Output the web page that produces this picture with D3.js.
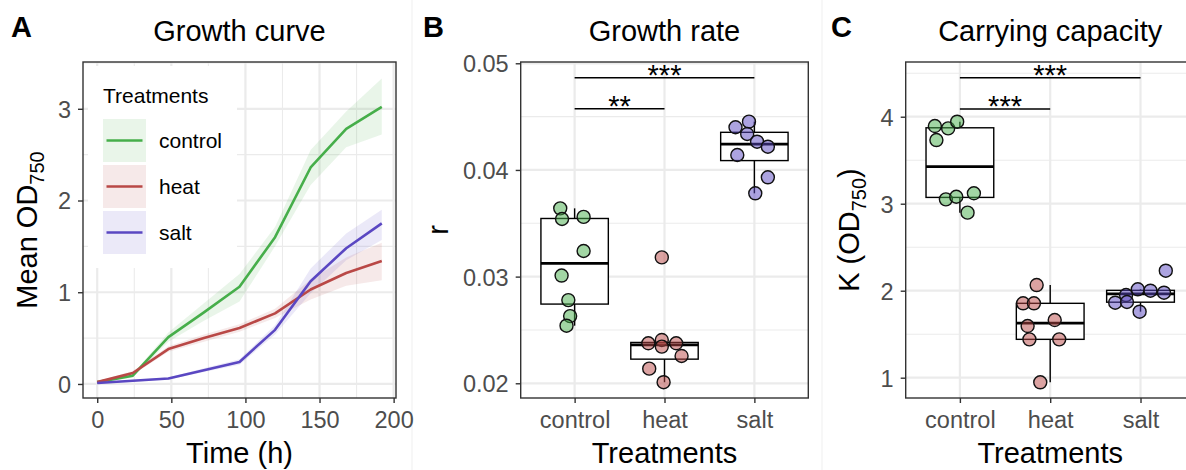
<!DOCTYPE html>
<html>
<head>
<meta charset="utf-8">
<script src="https://cdn.jsdelivr.net/npm/d3@7"></script>
<style>
  body { margin: 0; background: #fff; }
  svg { display: block; }
  text { font-family: "Liberation Sans", Arial, Helvetica, sans-serif; }
</style>
</head>
<body>
<svg id="fig" width="1186" height="470"></svg>
<script>
// ---- data -------------------------------------------------------------
const treatments = ["control", "heat", "salt"];
const treatmentColors = ["#46ae4a", "#b94846", "#5a47c2"];

// Growth curves: mean OD750 and ribbon bounds per sampling time (h)
const timeHours   = [0, 24, 48, 72, 96, 120, 144, 168, 192];
const controlMean = [0.02, 0.09, 0.51, 0.78, 1.06, 1.60, 2.36, 2.78, 3.02];
const controlLow  = [0.01, 0.07, 0.46, 0.69, 0.90, 1.50, 2.17, 2.58, 2.72];
const controlHigh = [0.03, 0.11, 0.56, 0.88, 1.20, 1.71, 2.55, 2.97, 3.33];
const heatMean    = [0.02, 0.12, 0.38, 0.50, 0.61, 0.77, 1.03, 1.21, 1.34];
const heatLow     = [0.01, 0.10, 0.35, 0.46, 0.57, 0.72, 0.92, 1.07, 1.13];
const heatHigh    = [0.03, 0.14, 0.41, 0.54, 0.65, 0.82, 1.14, 1.38, 1.54];
const saltMean    = [0.01, 0.035, 0.06, 0.15, 0.24, 0.59, 1.12, 1.48, 1.75];
const saltLow     = [0.00, 0.025, 0.05, 0.13, 0.21, 0.54, 0.99, 1.35, 1.57];
const saltHigh    = [0.02, 0.045, 0.07, 0.17, 0.27, 0.64, 1.26, 1.64, 1.90];

// Growth rate r per replicate
const rateControl = [0.0364, 0.0354, 0.0356, 0.0324, 0.0301, 0.0278, 0.0263, 0.0254];
const rateHeat    = [0.0318, 0.02375, 0.02406, 0.02344, 0.02375, 0.02256, 0.02137, 0.0201];
const rateSalt    = [0.0440, 0.04453, 0.04337, 0.04265, 0.04218, 0.0414, 0.03931, 0.03781];
// horizontal jitter (fraction of category step)
const rateJitterControl = [-0.16, -0.14, 0.10, 0.10, -0.145, -0.07, -0.05, -0.09];
const rateJitterHeat    = [-0.03, -0.18, -0.03, -0.03, 0.13, 0.19, -0.17, -0.01];
const rateJitterSalt    = [-0.21, -0.06, -0.08, 0.03, 0.15, -0.19, 0.15, 0.01];

// Carrying capacity K per replicate
const capControl = [3.893, 3.866, 3.943, 3.732, 3.05, 3.08, 3.12, 2.897];
const capHeat    = [2.065, 1.855, 1.855, 1.663, 1.594, 1.441, 1.441, 0.947];
const capSalt    = [2.23, 2.016, 2.0, 1.977, 1.95, 1.862, 1.87, 1.759];
const capJitterControl = [-0.277, -0.13, -0.03, -0.26, -0.155, -0.04, 0.155, 0.085];
const capJitterHeat    = [-0.15, -0.30, -0.18, 0.05, -0.25, -0.23, 0.10, -0.11];
const capJitterSalt    = [0.28, -0.03, 0.11, 0.26, -0.16, -0.28, -0.15, -0.01];

// Significance brackets
const sigPairs          = [["control", "heat"], ["control", "salt"]];
const rateSigLevels     = [0.04574, 0.04865];
const rateSigLabels     = ["**", "***"];
const capSigLevels      = [4.088, 4.448];
const capSigLabels      = ["***", "***"];

// Axis ticks
const timeTicks = [0, 50, 100, 150, 200];
const odTicks   = [0, 1, 2, 3];
const rateTicks = [0.02, 0.03, 0.04, 0.05];
const capTicks  = [1, 2, 3, 4];

// ---- drawing helpers ---------------------------------------------------
const svg = d3.select("#fig");
const TICK_COLOR = "#4d4d4d";
const GRID = "#ebebeb";
const FRAME = "#333333";

// faint outlines of the three sub-figures
[412, 822].forEach(x => {
  svg.append("line").attr("x1", x).attr("x2", x).attr("y1", 0).attr("y2", 470)
    .attr("stroke", "#efefef").attr("stroke-width", 1);
});

function minorBetween(ticks) {
  const out = [];
  for (let i = 0; i < ticks.length - 1; i++) out.push((ticks[i] + ticks[i + 1]) / 2);
  out.push(ticks[ticks.length - 1] + (ticks[1] - ticks[0]) / 2);
  out.unshift(ticks[0] - (ticks[1] - ticks[0]) / 2);
  return out;
}

function drawGrid(g, xs, ys, xMajor, xMinor, yMajor, yMinor) {
  const [x0, x1] = xs.range();
  const [y0, y1] = ys.range();
  const inY = v => ys(v) >= Math.min(y0, y1) && ys(v) <= Math.max(y0, y1);
  const inX = v => xs(v) >= Math.min(x0, x1) && xs(v) <= Math.max(x0, x1);
  g.selectAll(".ymin").data(yMinor.filter(inY)).join("line")
    .attr("x1", x0).attr("x2", x1).attr("y1", d => ys(d)).attr("y2", d => ys(d))
    .attr("stroke", GRID).attr("stroke-width", 1.1);
  if (xMinor) g.selectAll(".xmin").data(xMinor.filter(inX)).join("line")
    .attr("y1", y0).attr("y2", y1).attr("x1", d => xs(d)).attr("x2", d => xs(d))
    .attr("stroke", GRID).attr("stroke-width", 1.1);
  g.selectAll(".ymaj").data(yMajor.filter(inY)).join("line")
    .attr("x1", x0).attr("x2", x1).attr("y1", d => ys(d)).attr("y2", d => ys(d))
    .attr("stroke", GRID).attr("stroke-width", 2.2);
  g.selectAll(".xmaj").data(xMajor).join("line")
    .attr("y1", y0).attr("y2", y1).attr("x1", d => xs(d)).attr("x2", d => xs(d))
    .attr("stroke", GRID).attr("stroke-width", 2.2);
}

function drawFrame(g, xs, ys) {
  const [x0, x1] = xs.range();
  const [y0, y1] = ys.range();
  g.append("rect").attr("x", x0).attr("y", y1).attr("width", x1 - x0).attr("height", y0 - y1)
    .attr("fill", "none").attr("stroke", FRAME).attr("stroke-width", 1.4);
}

function styleAxis(sel) {
  sel.select(".domain").remove();
  sel.selectAll(".tick line").attr("stroke", FRAME).attr("stroke-width", 1.4);
  sel.selectAll(".tick text").attr("fill", TICK_COLOR).attr("font-size", 23.5)
    .attr("font-family", '"Liberation Sans", Arial, sans-serif');
}

function drawAxes(g, xs, ys, xTicks, yTicks, yFmt) {
  const bottom = ys.range()[0];
  const left = xs.range()[0];
  const ax = g.append("g").attr("transform", `translate(0,${bottom})`)
    .call(d3.axisBottom(xs).tickValues(xTicks).tickSize(5).tickPadding(8));
  styleAxis(ax);
  ax.selectAll(".tick text").attr("dy", null).attr("y", 30);
  const ay = g.append("g").attr("transform", `translate(${left},0)`)
    .call(d3.axisLeft(ys).tickValues(yTicks).tickSize(5).tickPadding(7).tickFormat(yFmt));
  styleAxis(ay);
  ay.selectAll(".tick text").attr("dy", "0.36em");
}

function panelTitle(letter, letterX, title, cx) {
  svg.append("text").attr("x", letterX).attr("y", 37).attr("font-size", 29)
    .attr("font-weight", "bold").text(letter);
  svg.append("text").attr("x", cx).attr("y", 41).attr("font-size", 29)
    .attr("text-anchor", "middle").text(title);
}

function xTitle(cx, label) {
  svg.append("text").attr("x", cx).attr("y", 463).attr("font-size", 29)
    .attr("text-anchor", "middle").text(label);
}

// y title with optional subscript: parts = [[text, isSub], ...]
function yTitle(x, cy, parts) {
  const t = svg.append("text").attr("transform", `translate(${x},${cy}) rotate(-90)`)
    .attr("text-anchor", "middle").attr("font-size", 29);
  let shifted = false;
  parts.forEach(([s, sub]) => {
    const sp = t.append("tspan").text(s);
    if (sub && !shifted) { sp.attr("font-size", 20).attr("dy", 7); shifted = true; }
    else if (!sub && shifted) { sp.attr("dy", -7); shifted = false; }
  });
}

// ---- Panel A: growth curve ----------------------------------------------
(function () {
  const xs = d3.scaleLinear().domain([-9.6, 201.6]).range([83, 396]);
  const ys = d3.scaleLinear().domain([-0.153, 3.51]).range([398, 62]);
  const g = svg.append("g");
  drawGrid(g, xs, ys, timeTicks.filter(t => xs(t) <= 396), [25, 75, 125, 175],
           odTicks, [0.5, 1.5, 2.5, 3.5]);

  const series = [
    { name: "control", mean: controlMean, lo: controlLow, hi: controlHigh },
    { name: "heat",    mean: heatMean,    lo: heatLow,    hi: heatHigh },
    { name: "salt",    mean: saltMean,    lo: saltLow,    hi: saltHigh }
  ];
  const color = d3.scaleOrdinal().domain(treatments).range(treatmentColors);
  const area = d3.area().x((d, i) => xs(timeHours[i]))
    .y0(d => ys(d[0])).y1(d => ys(d[1]));
  const line = d3.line().x((d, i) => xs(timeHours[i])).y(d => ys(d));

  series.forEach(s => {
    g.append("path").attr("d", area(s.lo.map((v, i) => [v, s.hi[i]])))
      .attr("fill", color(s.name)).attr("fill-opacity", 0.12);
  });

  // legend box sits over the grid
  const lg = g.append("g");
  lg.append("rect").attr("x", 88).attr("y", 66).attr("width", 149).attr("height", 202)
    .attr("fill", "#fff");
  lg.append("text").attr("x", 103).attr("y", 103).attr("font-size", 21).text("Treatments");
  treatments.forEach((name, i) => {
    const top = 119 + i * 46;
    lg.append("rect").attr("x", 103).attr("y", top).attr("width", 43).attr("height", 43)
      .attr("fill", color(name)).attr("fill-opacity", 0.12);
    lg.append("line").attr("x1", 106.5).attr("x2", 142.5)
      .attr("y1", top + 21.5).attr("y2", top + 21.5)
      .attr("stroke", color(name)).attr("stroke-width", 2.6);
    lg.append("text").attr("x", 159).attr("y", top + 29).attr("font-size", 21).text(name);
  });

  series.forEach(s => {
    g.append("path").attr("d", line(s.mean)).attr("fill", "none")
      .attr("stroke", color(s.name)).attr("stroke-width", 2.6)
      .attr("stroke-linejoin", "round");
  });

  drawFrame(g, xs, ys);
  drawAxes(g, xs, ys, timeTicks, odTicks, d3.format("d"));
  panelTitle("A", 11, "Growth curve", 239.5);
  xTitle(239.5, "Time (h)");
  yTitle(37, 230, [["Mean OD", false], ["750", true]]);
})();

// ---- Panels B and C: box plots ---------------------------------------
function boxPanel(opts) {
  const xs = d3.scalePoint().domain(treatments).range(opts.xRange).padding(0.6);
  const ys = d3.scaleLinear().domain(opts.yDomain).range([398, 62]);
  const step = xs.step();
  const g = svg.append("g");
  drawGrid(g, xs, ys, treatments, null, opts.yTicks, minorBetween(opts.yTicks));
  const color = d3.scaleOrdinal().domain(treatments).range(treatmentColors);

  treatments.forEach((name, i) => {
    const vals = opts.values[i].slice().sort(d3.ascending);
    const q1 = d3.quantile(vals, 0.25), med = d3.quantile(vals, 0.5), q3 = d3.quantile(vals, 0.75);
    const iqr = q3 - q1;
    const lo = d3.min(vals.filter(v => v >= q1 - 1.5 * iqr));
    const hi = d3.max(vals.filter(v => v <= q3 + 1.5 * iqr));
    const cx = xs(name), w = 0.75 * step;
    g.append("line").attr("x1", cx).attr("x2", cx).attr("y1", ys(hi)).attr("y2", ys(q3))
      .attr("stroke", "#000").attr("stroke-width", 1.4);
    g.append("line").attr("x1", cx).attr("x2", cx).attr("y1", ys(q1)).attr("y2", ys(lo))
      .attr("stroke", "#000").attr("stroke-width", 1.4);
    g.append("rect").attr("x", cx - w / 2).attr("width", w)
      .attr("y", ys(q3)).attr("height", ys(q1) - ys(q3))
      .attr("fill", "#fff").attr("stroke", "#000").attr("stroke-width", 1.4);
    g.append("line").attr("x1", cx - w / 2).attr("x2", cx + w / 2)
      .attr("y1", ys(med)).attr("y2", ys(med))
      .attr("stroke", "#000").attr("stroke-width", 2.8);
  });

  treatments.forEach((name, i) => {
    g.selectAll(null).data(opts.values[i].map((v, k) => [v, opts.jitter[i][k]]))
      .join("circle")
      .attr("cx", d => xs(name) + d[1] * step)
      .attr("cy", d => ys(d[0]))
      .attr("r", 6.5)
      .attr("fill", color(name)).attr("fill-opacity", 0.5)
      .attr("stroke", "#111").attr("stroke-width", 1.4);
  });

  sigPairs.forEach((pair, k) => {
    const y = ys(opts.sigLevels[k]);
    const a = xs(pair[0]), b = xs(pair[1]);
    g.append("line").attr("x1", a).attr("x2", b).attr("y1", y).attr("y2", y)
      .attr("stroke", "#000").attr("stroke-width", 1.4);
    g.append("text").attr("x", (a + b) / 2).attr("y", y + 7).attr("font-size", 29)
      .attr("text-anchor", "middle").text(opts.sigLabels[k]);
  });

  drawFrame(g, xs, ys);
  drawAxes(g, xs, ys, treatments, opts.yTicks, opts.fmt);
  const cx = (opts.xRange[0] + opts.xRange[1]) / 2;
  panelTitle(opts.letter, opts.letterX, opts.title, cx);
  xTitle(cx, "Treatments");
  yTitle(opts.yTitleX, 230, opts.yLabel);
}

boxPanel({
  xRange: [520.7, 808.3], yDomain: [0.01862, 0.05012], yTicks: rateTicks,
  values: [rateControl, rateHeat, rateSalt],
  jitter: [rateJitterControl, rateJitterHeat, rateJitterSalt],
  sigLevels: rateSigLevels, sigLabels: rateSigLabels,
  fmt: d3.format(".2f"), letter: "B", letterX: 423, title: "Growth rate",
  yTitleX: 448, yLabel: [["r", false]]
});

boxPanel({
  xRange: [905.7, 1194.7], yDomain: [0.7667, 4.629], yTicks: capTicks,
  values: [capControl, capHeat, capSalt],
  jitter: [capJitterControl, capJitterHeat, capJitterSalt],
  sigLevels: capSigLevels, sigLabels: capSigLabels,
  fmt: d3.format("d"), letter: "C", letterX: 831, title: "Carrying capacity",
  yTitleX: 859, yLabel: [["K (OD", false], ["750", true], [")", false]]
});
</script>
</body>
</html>
